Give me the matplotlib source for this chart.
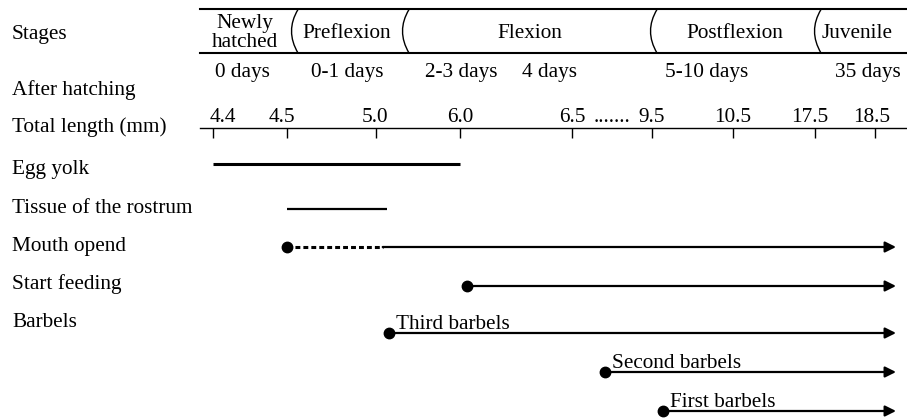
import numpy as np
import matplotlib.pyplot as plt
from matplotlib.path import Path
from matplotlib.patches import PathPatch

plt.rcParams['font.family'] = ['Liberation Serif', 'DejaVu Serif']

# header rows
stages = ['Newly\nhatched', 'Preflexion', 'Flexion', 'Postflexion', 'Juvenile']
days = ['0 days', '0-1 days', '2-3 days', '4 days', '5-10 days', '35 days']
lengths = [4.4, 4.5, 5.0, 6.0, 6.5, 9.5, 10.5, 17.5, 18.5]
length_labels = ['4.4', '4.5', '5.0', '6.0', '6.5', '9.5', '10.5', '17.5', '18.5']

# developmental events (total length, mm)
egg_yolk = (4.4, 6.0)
rostrum = (4.5, 5.13)
mouth_open = 4.5
mouth_dashed_until = 5.08
start_feeding = 6.03
barbels = ['Third barbels', 'Second barbels', 'First barbels']
barbel_start = [5.15, 7.75, 9.64]
end_len = 18.85

row_names = ['Egg yolk', 'Tissue of the rostrum', 'Mouth opend', 'Start feeding', 'Barbels']

# layout (pixels of the 907x419 picture)
W, H = 907, 419
tick_px = [213, 287, 376, 460, 572, 652, 733, 815, 875]
label_px = [223, 282, 375, 460, 572, 652, 733, 810, 872]
stage_px = [245, 347, 530, 735, 857]
divider_px = [289, 400, 648, 812]
days_px = [242, 347, 461, 550, 707, 868]
row_label_y = [169, 208, 246, 284, 322]


def fwd(v):
    v = np.asarray(v, dtype=float)
    out = np.interp(v, lengths, tick_px)
    s0 = (tick_px[1] - tick_px[0]) / (lengths[1] - lengths[0])
    s1 = (tick_px[-1] - tick_px[-2]) / (lengths[-1] - lengths[-2])
    out = np.where(v < lengths[0], tick_px[0] + (v - lengths[0]) * s0, out)
    out = np.where(v > lengths[-1], tick_px[-1] + (v - lengths[-1]) * s1, out)
    return out


def inv(p):
    p = np.asarray(p, dtype=float)
    out = np.interp(p, tick_px, lengths)
    s0 = (lengths[1] - lengths[0]) / (tick_px[1] - tick_px[0])
    s1 = (lengths[-1] - lengths[-2]) / (tick_px[-1] - tick_px[-2])
    out = np.where(p < tick_px[0], lengths[0] + (p - tick_px[0]) * s0, out)
    out = np.where(p > tick_px[-1], lengths[-1] + (p - tick_px[-1]) * s1, out)
    return out


fig = plt.figure(figsize=(W / 100, H / 100), dpi=100)

# layout axes for the header
lay = fig.add_axes([0, 0, 1, 1])
lay.set_xlim(0, W)
lay.set_ylim(H, 0)
lay.axis('off')

# data axes: total length on a piecewise scale
ax = fig.add_axes([0, 0, 1, 1], facecolor='none')
ax.set_xscale('function', functions=(fwd, inv))
ax.set_xlim(float(inv(0)), float(inv(W)))
ax.set_ylim(H, 0)
ax.axis('off')

fs = 15.3

# stage band
lay.plot([200, W], [9.5, 9.5], color='black', lw=1.5)
lay.plot([200, W], [53, 53], color='black', lw=1.5)
for x in divider_px:
    verts = [(x + 9, 9.5), (x - 4, 31), (x + 9, 53)]
    p = Path(verts, [Path.MOVETO, Path.CURVE3, Path.CURVE3])
    lay.add_patch(PathPatch(p, fill=False, lw=1.0, color='black'))
for name, x in zip(stages, stage_px):
    lay.text(x, 33, name, ha='center', va='center', fontsize=fs,
             linespacing=0.95)

lay.text(12, 35, 'Stages', ha='left', va='center', fontsize=fs)
lay.text(12, 90, 'After hatching', ha='left', va='center', fontsize=fs)
lay.text(12, 127, 'Total length (mm)', ha='left', va='center', fontsize=fs)
for name, y in zip(row_names, row_label_y):
    lay.text(12, y, name, ha='left', va='center', fontsize=fs)

for d, x in zip(days, days_px):
    lay.text(x, 72, d, ha='center', va='center', fontsize=fs)

# length axis
lay.plot([200, W], [128, 128], color='black', lw=1.0)
for lab, x in zip(length_labels, label_px):
    lay.text(x, 127, lab, ha='center', va='bottom', fontsize=fs)
lay.text((label_px[4] + label_px[5]) / 2, 127, '.......', ha='center',
         va='bottom', fontsize=fs)
ax.vlines(lengths, 128, 138, color='black', lw=1.0)

arrow = dict(arrowstyle='-|>', color='black', lw=1.6, mutation_scale=16,
             shrinkA=0, shrinkB=0)

# egg yolk / rostrum
ax.plot(egg_yolk, [164, 164], color='black', lw=2.2, solid_capstyle='butt')
ax.plot(rostrum, [209, 209], color='black', lw=1.6, solid_capstyle='butt')

# mouth opened
ax.plot([mouth_open, mouth_dashed_until], [247, 247], color='black', lw=2.2,
        ls=(0, (1.6, 1.0)))
ax.annotate('', xy=(end_len, 247), xytext=(mouth_dashed_until, 247),
            arrowprops=arrow)
ax.plot(mouth_open, 247, 'o', color='black', ms=7.5)

# start feeding
ax.annotate('', xy=(end_len, 286), xytext=(start_feeding, 286), arrowprops=arrow)
ax.plot(start_feeding, 286, 'o', color='black', ms=7.5)

# barbels
for name, x0, y in zip(barbels, barbel_start, [333, 372, 411]):
    ax.annotate('', xy=(end_len, y), xytext=(x0, y), arrowprops=arrow)
    ax.plot(x0, y, 'o', color='black', ms=7.5)
    ax.annotate(name, xy=(x0, y), xytext=(5, -1), textcoords='offset points',
                ha='left', va='bottom', fontsize=fs)

fig.savefig('out.png', dpi=100)
